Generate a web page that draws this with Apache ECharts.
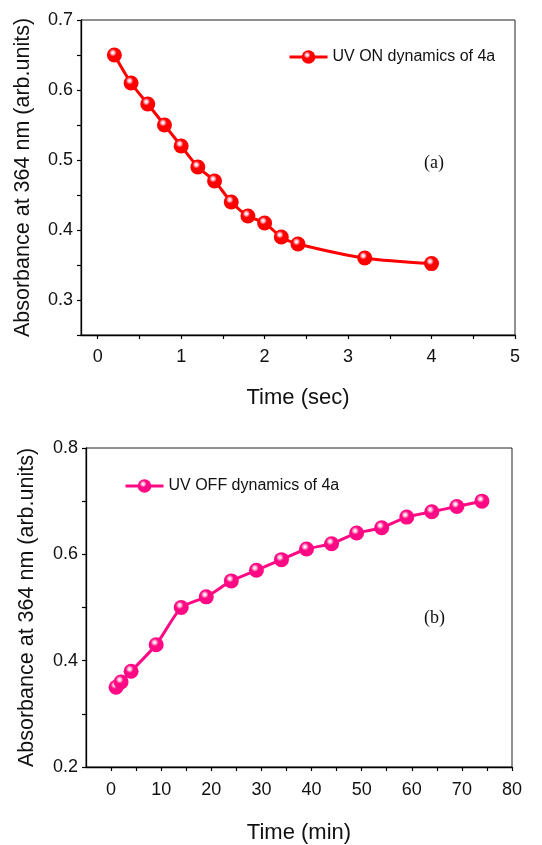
<!DOCTYPE html>
<html><head><meta charset="utf-8">
<script src="https://cdn.jsdelivr.net/npm/echarts@6/dist/echarts.min.js"></script>
<style>html,body{margin:0;padding:0;background:#fff}#c{width:542px;height:845px}</style>
</head><body><div id="c"></div>
<script>
// Panel (a): UV ON dynamics
const timeSec = [0.2,0.4,0.6,0.8,1.0,1.2,1.4,1.6,1.8,2.0,2.2,2.4,3.2,4.0];
const absOn   = [0.65,0.61,0.58,0.55,0.52,0.49,0.47,0.44,0.42,0.41,0.39,0.38,0.36,0.352];
const xTicksA = [0,1,2,3,4,5];
const xMinorA = [0,0.5,1,1.5,2,2.5,3,3.5,4,4.5,5];
const yTicksA = [0.3,0.4,0.5,0.6,0.7];
const yMinorA = [0.25,0.3,0.35,0.4,0.45,0.5,0.55,0.6,0.65,0.7];
// Panel (b): UV OFF dynamics
const timeMin = [1,2,4,9,14,19,24,29,34,39,44,49,54,59,64,69,74];
const absOff  = [0.35,0.36,0.38,0.43,0.50,0.52,0.55,0.57,0.59,0.61,0.62,0.64,0.65,0.67,0.68,0.69,0.70];
const xTicksB = [0,10,20,30,40,50,60,70,80];
const xMinorB = [0,5,10,15,20,25,30,35,40,45,50,55,60,65,70,75,80];
const yTicksB = [0.2,0.4,0.6,0.8];
const yMinorB = [0.2,0.3,0.4,0.5,0.6,0.7,0.8];

const FONT = '"Liberation Sans", Arial, sans-serif';
function sphere(c){
  return {type:'radial',x:0.4,y:0.35,r:0.6,colorStops:[
    {offset:0,color:'#ffffff'},{offset:0.15,color:'#ffd6e6'},{offset:0.42,color:c},{offset:1,color:c}]};
}
function xAxis(gi,min,max,ticks,minor,name,gap,margin){
  return {type:'value',gridIndex:gi,min:min,max:max,
    axisLine:{show:true,onZero:false,lineStyle:{color:'#000',width:1.3}},
    axisTick:{show:true,customValues:minor,length:4,lineStyle:{color:'#000',width:1.2}},
    axisLabel:{customValues:ticks,color:'#111',fontSize:18,fontFamily:FONT,margin:margin},
    splitLine:{show:false},
    name:name,nameLocation:'middle',nameGap:gap,
    nameTextStyle:{color:'#111',fontSize:22,fontFamily:FONT}};
}
function yAxis(gi,min,max,ticks,minor,gap){
  return {type:'value',gridIndex:gi,min:min,max:max,
    axisLine:{show:true,onZero:false,lineStyle:{color:'#000',width:1.3}},
    axisTick:{show:true,customValues:minor,length:4,lineStyle:{color:'#000',width:1.2}},
    axisLabel:{customValues:ticks,color:'#111',fontSize:18,fontFamily:FONT,margin:8,
      formatter:v=>v.toFixed(1)},
    splitLine:{show:false},
    name:'Absorbance at 364 nm (arb.units)',nameLocation:'middle',nameGap:gap,
    nameTextStyle:{color:'#111',fontSize:21.5,fontFamily:FONT}};
}
const chart = echarts.init(document.getElementById('c'),null,{renderer:'canvas'});
chart.setOption({
  animation:false,
  backgroundColor:'#fff',
  grid:[
    {left:81,top:20,width:434,height:315,show:true,borderColor:'#222',borderWidth:1},
    {left:86,top:448,width:426,height:320,show:true,borderColor:'#222',borderWidth:1}
  ],
  xAxis:[xAxis(0,-0.2,5,xTicksA,xMinorA,'Time (sec)',52,13), xAxis(1,-5,80,xTicksB,xMinorB,'Time (min)',55,14)],
  yAxis:[yAxis(0,0.25,0.7,yTicksA,yMinorA,47), yAxis(1,0.2,0.8,yTicksB,yMinorB,48)],
  legend:[
    {data:['UV ON dynamics of 4a'],left:283,top:44,itemWidth:38,itemHeight:17,itemGap:5,
      lineStyle:{width:3},
      textStyle:{color:'#111',fontSize:16,fontFamily:FONT}},
    {data:['UV OFF dynamics of 4a'],left:119,top:473,itemWidth:38,itemHeight:17,itemGap:5,
      lineStyle:{width:3},
      textStyle:{color:'#111',fontSize:16,fontFamily:FONT}}
  ],
  series:[
    {name:'UV ON dynamics of 4a',type:'line',xAxisIndex:0,yAxisIndex:0,
      data:timeSec.map((t,i)=>[t,absOn[i]]),smooth:0.3,
      symbol:'circle',symbolSize:15,
      lineStyle:{color:'#ff0000',width:3},
      itemStyle:{color:sphere('#ff0000'),borderWidth:0}},
    {name:'UV OFF dynamics of 4a',type:'line',xAxisIndex:1,yAxisIndex:1,
      data:timeMin.map((t,i)=>[t,absOff[i]]),smooth:0.2,
      symbol:'circle',symbolSize:15,
      lineStyle:{color:'#ff0a84',width:3},
      itemStyle:{color:sphere('#ff0a84'),borderWidth:0}}
  ],
  graphic:[
    {type:'text',left:424,top:154,style:{text:'(a)',fill:'#111',font:'18px "Liberation Serif", "Times New Roman", serif'}},
    {type:'text',left:424,top:609,style:{text:'(b)',fill:'#111',font:'18px "Liberation Serif", "Times New Roman", serif'}}
  ]
});
</script></body></html>
